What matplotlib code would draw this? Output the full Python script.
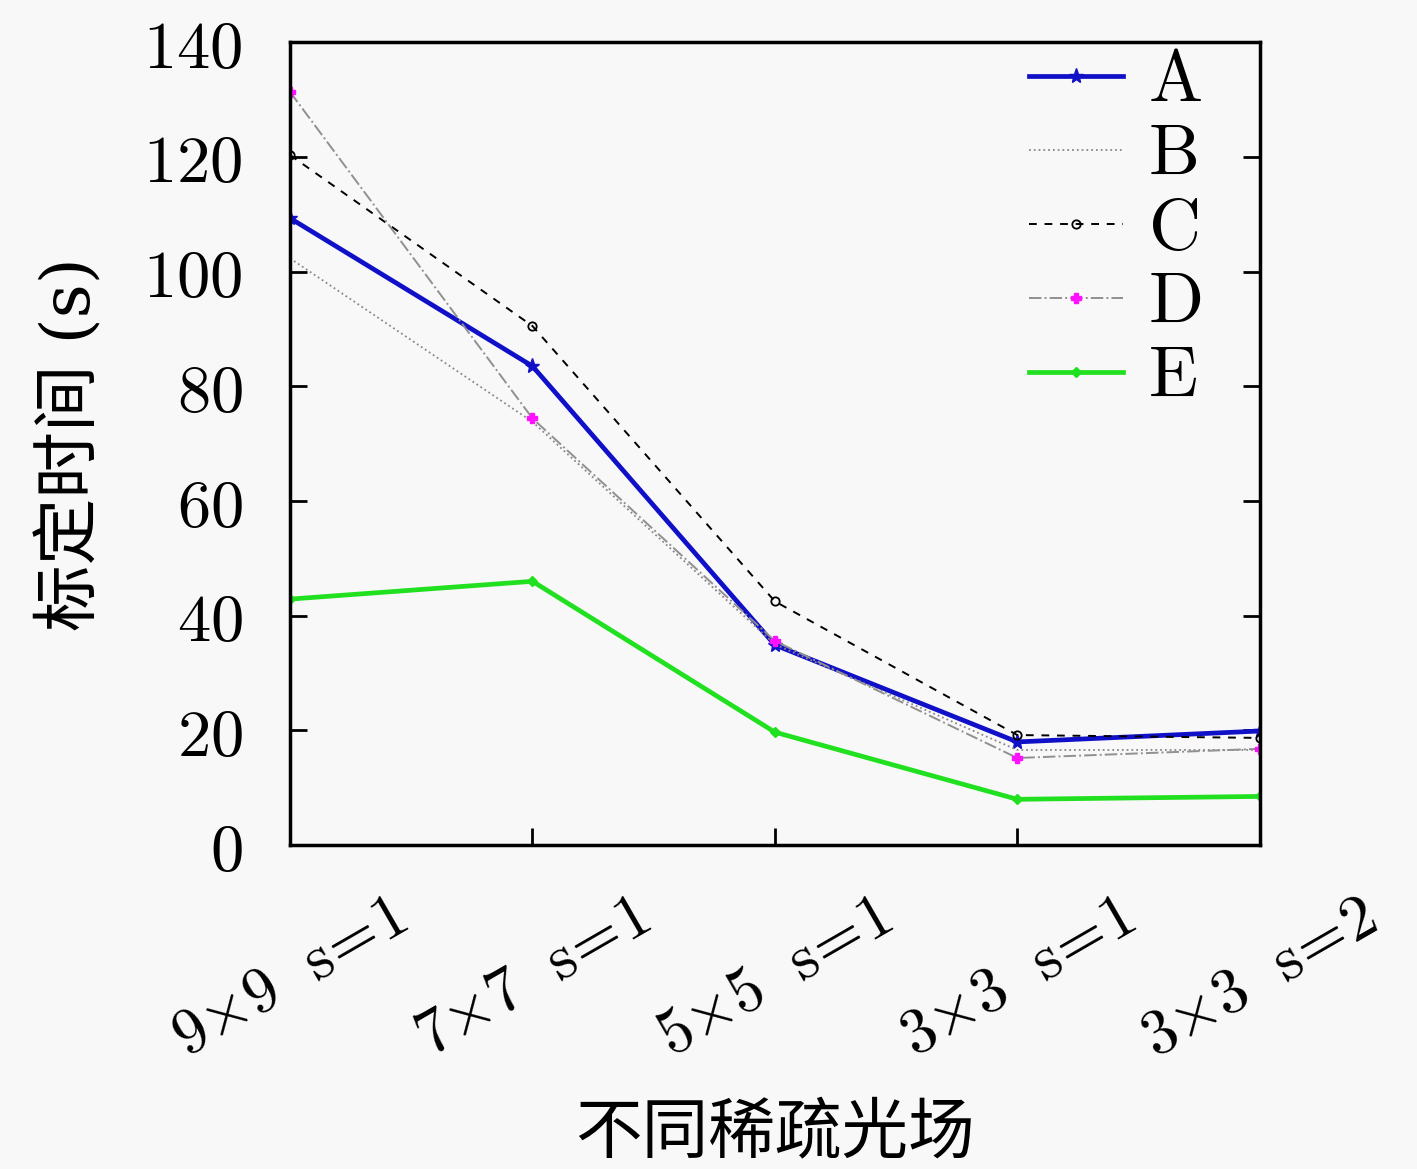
import numpy as np
import matplotlib.pyplot as plt

plt.rcParams['mathtext.fontset'] = 'cm'
plt.rcParams['font.family'] = ['DejaVu Serif', 'Noto Sans CJK SC']

cats = [r'$\mathrm{9{\times}9\ \ s\!=\!1}$', r'$\mathrm{7{\times}7\ \ s\!=\!1}$',
        r'$\mathrm{5{\times}5\ \ s\!=\!1}$', r'$\mathrm{3{\times}3\ \ s\!=\!1}$',
        r'$\mathrm{3{\times}3\ \ s\!=\!2}$']
a_vals = [109.3, 83.5, 34.9, 18.0, 19.9]
b_vals = [102.3, 73.8, 35.0, 16.6, 16.6]
c_vals = [120.3, 90.5, 42.5, 19.2, 18.7]
d_vals = [131.3, 74.4, 35.6, 15.2, 16.8]
e_vals = [42.9, 46.0, 19.7, 8.0, 8.5]
yticks = [0, 20, 40, 60, 80, 100, 120, 140]

bg = '#f8f8f8'
fig = plt.figure(figsize=(14.17, 11.69), dpi=100, facecolor=bg)
ax = fig.add_axes([0.2047, 0.277, 0.6843, 0.687], facecolor=bg)
xs = np.arange(len(cats))

ax.plot(xs, a_vals, color='#1010c8', lw=3.4, marker='*', ms=11, label=r'$\mathrm{A}$')
ax.plot(xs, b_vals, color='#888888', lw=1.3, ls=':', label=r'$\mathrm{B}$')
ax.plot(xs, c_vals, color='black', lw=1.4, ls=(0, (4, 4)), marker='o', ms=6,
        mfc='none', mew=1.3, label=r'$\mathrm{C}$')
ax.plot(xs, d_vals, color='#909090', lw=1.4, ls='-.', marker='P', ms=7,
        mfc='#ff10ff', mec='#ff10ff', label=r'$\mathrm{D}$')
ax.plot(xs, e_vals, color='#20e020', lw=3.4, marker='D', ms=5, label=r'$\mathrm{E}$')

ax.set_xlim(0, 4)
ax.set_ylim(0, 140)
ax.set_yticks(yticks)
ax.set_yticklabels([r'$\mathrm{%d}$' % v for v in yticks], fontsize=48)
ax.set_xticks(xs)
ax.set_xticklabels(cats, fontsize=46, rotation=30)
ax.tick_params(axis='y', direction='in', length=12, width=2, right=True, pad=34)
ax.tick_params(axis='x', direction='in', length=12, width=2, pad=30)
for s in ax.spines.values():
    s.set_linewidth(2.5)

ax.set_xlabel('不同稀疏光场', fontsize=48, family='Noto Sans CJK SC', labelpad=22)
ax.set_ylabel('标定时间 (s)', fontsize=48, family=['DejaVu Serif', 'Noto Sans CJK SC'],
              labelpad=28)

ax.legend(loc='upper right', bbox_to_anchor=(0.985, 1.05), frameon=False, fontsize=52,
          handlelength=1.3, labelspacing=0.05, borderaxespad=0.2, handletextpad=0.35)

fig.savefig('out.png', dpi=100, facecolor=bg)
